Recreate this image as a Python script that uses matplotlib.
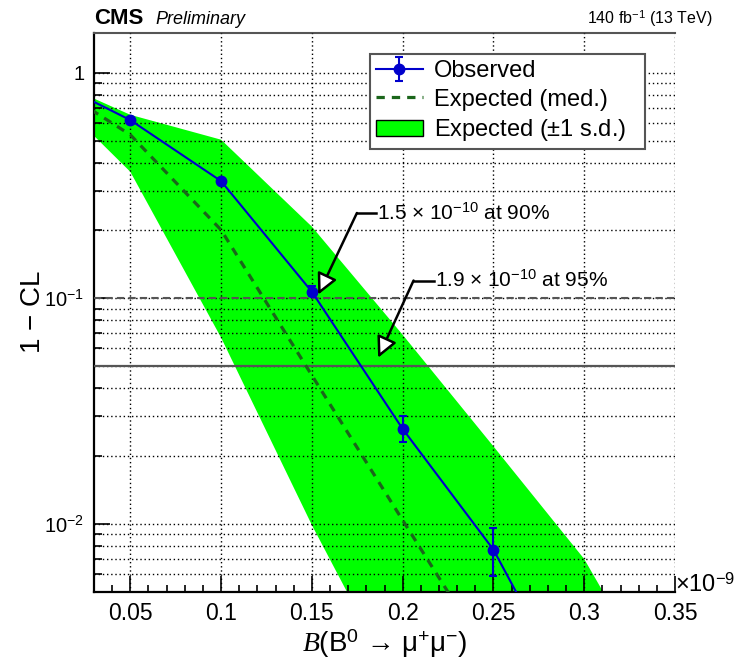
import numpy as np
import matplotlib
matplotlib.use("Agg")
import matplotlib.pyplot as plt
from matplotlib.patches import Patch
from matplotlib.ticker import FixedLocator, FuncFormatter, LogLocator, NullFormatter

plt.rcParams['font.family'] = ['Liberation Sans', 'DejaVu Sans']
plt.rcParams['mathtext.fontset'] = 'custom'
plt.rcParams['mathtext.rm'] = 'Liberation Sans'
plt.rcParams['mathtext.it'] = 'Liberation Serif:italic'
plt.rcParams['mathtext.bf'] = 'Liberation Sans:bold'

# Observed CLs scan (branching fraction in units of 1e-9)
bf_obs = np.array([0.0, 0.05, 0.10, 0.15, 0.20, 0.25, 0.30])
cl_obs = np.array([0.98, 0.617, 0.331, 0.107, 0.0264, 0.0077, 0.00137])
err_up = np.array([0.0, 0.006, 0.006, 0.007, 0.0036, 0.0019, 0.0])
err_dn = np.array([0.0, 0.006, 0.006, 0.005, 0.0034, 0.0018, 0.0])

# Expected median
bf_exp = np.array([0.0, 0.05, 0.10, 0.15, 0.20, 0.25])
cl_med = np.array([0.96, 0.531, 0.201, 0.0456, 0.0104, 0.0024])

# Expected +-1 s.d. band
bf_band = np.array([0.0, 0.05, 0.10, 0.15, 0.20, 0.25, 0.30, 0.35])
band_hi = np.array([0.985, 0.651, 0.505, 0.208, 0.069, 0.0221, 0.0070, 0.0014])
band_lo = np.array([0.91, 0.364, 0.067, 0.0099, 0.0017, 0.0003, 0.00005, 0.00001])

xticks = [0.05, 0.1, 0.15, 0.2, 0.25, 0.3, 0.35]

fig = plt.figure(figsize=(7.34, 6.66), dpi=100)
ax = fig.add_axes([94/734, 1-592/666, 581/734, 559/666])

ax.fill_between(bf_band, band_lo, band_hi, color='#00ff00', lw=0, zorder=1)
ax.axhline(0.1, color='#555555', lw=1.5, ls=(0, (3.5, 2)), zorder=2.6)
ax.axhline(0.05, color='#555555', lw=1.6, zorder=2.6)
ax.plot(bf_exp, cl_med, color='#1b661b', lw=2.3, ls=(0, (2.6, 2.2)), zorder=3)
obs = ax.errorbar(bf_obs, cl_obs, yerr=[err_dn, err_up], color='#0000cc', lw=1.5,
                  marker='o', ms=7.5, capsize=3, elinewidth=1.5, capthick=1.5, zorder=4)

ax.set_yscale('log')
ax.set_xlim(0.03, 0.35)
ax.set_ylim(0.005, 1.5)

ax.xaxis.set_major_locator(FixedLocator(xticks))
ax.xaxis.set_minor_locator(FixedLocator(np.arange(0.03, 0.351, 0.01)))
ax.xaxis.set_major_formatter(FuncFormatter(lambda v, p: '%g' % round(v, 3)))
ax.yaxis.set_major_locator(LogLocator(base=10, numticks=10))
ax.yaxis.set_minor_locator(LogLocator(base=10, subs=np.arange(2, 10), numticks=10))
ax.yaxis.set_minor_formatter(NullFormatter())
ax.yaxis.set_major_formatter(FuncFormatter(
    lambda v, p: '1' if abs(v - 1) < 1e-9 else r'10$^{%d}$' % int(round(np.log10(v)))))

ax.tick_params(which='both', direction='in', top=False, right=False, width=1.2)
ax.tick_params(axis='x', labelsize=16.5)
ax.tick_params(axis='y', labelsize=14.5)
ax.tick_params(which='major', length=11.5, pad=7)
ax.tick_params(which='minor', length=5.4)

ax.set_axisbelow(False)
ax.grid(True, which='major', axis='x', color='black', lw=1, ls=(0, (1, 2)))
ax.grid(True, which='both', axis='y', color='black', lw=1, ls=(0, (1, 2)))

for s in ['left', 'bottom']:
    ax.spines[s].set_linewidth(1.6)
ax.spines['right'].set_visible(False)
ax.spines['top'].set_color('#555555')
ax.spines['top'].set_linewidth(1.5)

ax.set_ylabel('1 $-$ CL', fontsize=20)
ax.yaxis.set_label_coords(-0.083, 0.5)
ax.set_xlabel(r'$\mathit{B}$(B$^0$ → μ$^{+}$μ$^{-}$)', fontsize=20)
ax.xaxis.set_label_coords(0.5, -0.063)

ax.text(1.0, 0.0, r'$\times$10$^{-9}$', transform=ax.transAxes, fontsize=17,
        ha='left', va='baseline')

# limit annotations
arrow = dict(arrowstyle='-|>,head_length=0.9,head_width=0.45', fc='white', ec='black',
             lw=1.8, mutation_scale=14, shrinkA=0, shrinkB=0)
ax.annotate('', xy=(0.1535, 0.104), xytext=(0.1748, 0.239), arrowprops=arrow, zorder=6)
ax.plot([0.1748, 0.1852], [0.239, 0.239], color='black', lw=1.8, zorder=6)
ax.text(0.1858, 0.239, r'1.5$\,\times\,$10$^{-10}$ at 90%', fontsize=15, va='center', zorder=6)
ax.annotate('', xy=(0.1865, 0.0546), xytext=(0.2060, 0.120), arrowprops=arrow, zorder=6)
ax.plot([0.2060, 0.2172], [0.120, 0.120], color='black', lw=1.8, zorder=6)
ax.text(0.2179, 0.120, r'1.9$\,\times\,$10$^{-10}$ at 95%', fontsize=15, va='center', zorder=6)

handles = [obs,
           plt.Line2D([], [], color='#1b661b', lw=2.3, ls=(0, (2.6, 2.2))),
           Patch(facecolor='#00ff00', edgecolor='black', lw=1)]
labels = ['Observed', 'Expected (med.)', r'Expected ($\pm$1 s.d.)']
leg = ax.legend(handles, labels, loc='upper left', bbox_to_anchor=(0.475, 0.787, 0.473, 0.1753),
                mode='expand', fontsize=17, frameon=True, fancybox=False, framealpha=1,
                edgecolor='#555555', handlelength=2.0, handletextpad=0.45, labelspacing=0.28,
                borderpad=0.25, borderaxespad=0)
leg.get_frame().set_linewidth(1.5)
leg.set_zorder(7)

fig.text(94/734, 1-24/666, 'CMS', fontsize=16, weight='bold', va='baseline')
fig.text(155/734, 1-24/666, 'Preliminary', fontsize=13, style='italic', va='baseline')
fig.text(713/734, 1-24/666, r'140 fb$^{-1}$ (13 TeV)', fontsize=11.5, ha='right', va='baseline')

fig.savefig('out.png', dpi=100)
